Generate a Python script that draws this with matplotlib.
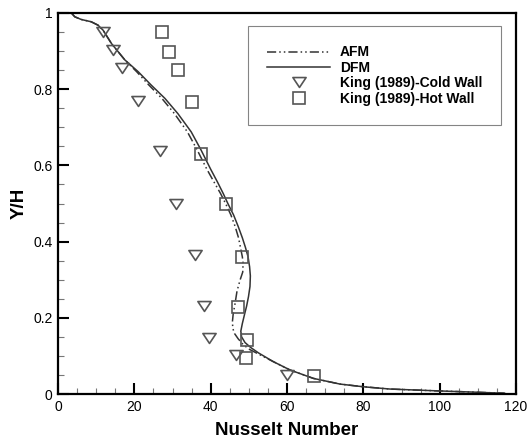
import matplotlib
matplotlib.use("Agg")
import matplotlib.pyplot as plt
from matplotlib.ticker import MultipleLocator, FuncFormatter
from matplotlib.path import Path

plt.rcParams['font.family'] = ['Liberation Sans', 'DejaVu Sans']

# DFM curve (x = Nusselt number, y = Y/H)
dfm_x = [3.5, 4.4, 6.1, 8.7, 10.5, 11.8, 14.0, 17.5, 21.0, 24.4, 28.0, 31.4, 34.9, 37.5, 40.0,
         41.8, 43.3, 44.5, 46.0, 47.2, 48.3, 49.1, 49.8, 50.2, 50.4, 50.3, 49.9, 49.4, 48.9,
         48.3, 47.9, 48.1, 49.0, 50.5, 52.5, 56.4, 60.8, 66.9, 73.9, 80.0, 87.0, 100.0, 108.8,
         114.0, 117.0]
dfm_y = [1.0, 0.99, 0.983, 0.977, 0.968, 0.955, 0.92, 0.877, 0.846, 0.811, 0.776, 0.736, 0.688,
         0.64, 0.59, 0.556, 0.526, 0.50, 0.47, 0.44, 0.41, 0.385, 0.36, 0.334, 0.31, 0.282,
         0.255, 0.23, 0.21, 0.185, 0.165, 0.15, 0.135, 0.122, 0.108, 0.085, 0.063, 0.041,
         0.026, 0.019, 0.013, 0.008, 0.005, 0.003, 0.002]

# AFM curve
afm_x = [3.5, 4.4, 6.1, 8.7, 10.5, 11.8, 14.0, 17.5, 20.6, 23.8, 27.2, 30.5, 33.9, 36.5, 39.0,
         40.9, 42.6, 43.9, 45.3, 46.4, 47.3, 47.8, 48.3, 48.5, 48.4, 47.7, 46.9, 46.4, 45.9,
         45.7, 45.8, 46.3, 47.2, 48.5, 50.0, 52.3, 56.4, 60.8, 66.9, 73.9, 80.0, 87.0, 100.0,
         108.8, 114.0, 117.0]
afm_y = [1.0, 0.99, 0.983, 0.977, 0.968, 0.955, 0.92, 0.877, 0.846, 0.811, 0.776, 0.736, 0.688,
         0.64, 0.59, 0.556, 0.526, 0.50, 0.47, 0.44, 0.41, 0.385, 0.36, 0.343, 0.32, 0.299,
         0.27, 0.238, 0.21, 0.19, 0.172, 0.158, 0.145, 0.13, 0.118, 0.106, 0.085, 0.063,
         0.041, 0.026, 0.019, 0.013, 0.008, 0.005, 0.003, 0.002]

# King (1989) experimental data
cold_x = [11.9, 14.3, 16.8, 21.0, 26.8, 30.9, 35.9, 38.2, 39.6, 46.6, 60.0]
cold_y = [0.951, 0.904, 0.856, 0.768, 0.638, 0.500, 0.365, 0.231, 0.147, 0.102, 0.050]
hot_x = [27.3, 29.2, 31.5, 35.1, 37.4, 44.1, 48.3, 47.1, 49.4, 49.2, 67.1]
hot_y = [0.950, 0.898, 0.850, 0.766, 0.630, 0.499, 0.360, 0.228, 0.142, 0.095, 0.047]

fig = plt.figure(figsize=(5.29, 4.41), dpi=100)
ax = fig.add_axes([58/529, 1-394/441, 458/529, 381/441])

line_c = '#333333'
mk_c = '#555555'
tri = Path([(-1, 0.75), (1, 0.75), (0, -0.75), (-1, 0.75)],
           [Path.MOVETO, Path.LINETO, Path.LINETO, Path.CLOSEPOLY])

ax.plot(afm_x, afm_y, color=line_c, lw=1.1, dashes=(6, 2, 1, 2, 1, 2), label='AFM')
ax.plot(dfm_x, dfm_y, color=line_c, lw=1.1, label='DFM')
ax.plot(cold_x, cold_y, ls='none', marker=tri, ms=9.5, mfc='none', mec=mk_c, mew=1.2,
        label='King (1989)-Cold Wall')
ax.plot(hot_x, hot_y, ls='none', marker='s', ms=8, mfc='none', mec=mk_c, mew=1.2,
        label='King (1989)-Hot Wall')

ax.set_xlim(0, 120)
ax.set_ylim(0, 1)
ax.xaxis.set_major_locator(MultipleLocator(20))
ax.xaxis.set_minor_locator(MultipleLocator(5))
ax.yaxis.set_major_locator(MultipleLocator(0.2))
ax.yaxis.set_minor_locator(MultipleLocator(0.05))
ax.yaxis.set_major_formatter(FuncFormatter(lambda v, p: ('%g' % round(v, 2))))

for s in ax.spines.values():
    s.set_linewidth(1.6)
    s.set_color('black')
ax.tick_params(which='major', direction='in', length=8, width=1.5, labelsize=10, pad=4)
ax.tick_params(which='minor', direction='in', length=4, width=0.8, color='#777777')

ax.set_xlabel('Nusselt Number', fontsize=13.5, fontweight='bold', labelpad=6)
ax.set_ylabel('Y/H', fontsize=13.5, fontweight='bold', labelpad=4)

leg = ax.legend(loc='upper left', bbox_to_anchor=((248-58)/458, (394-26)/381),
                prop={'weight': 'bold', 'size': 10}, frameon=True, fancybox=False,
                handlelength=4.5, handletextpad=0.7, labelspacing=0.1, borderpad=1.4,
                borderaxespad=0)
leg.get_frame().set_edgecolor('#666666')
leg.get_frame().set_linewidth(0.8)

fig.savefig('out.png', dpi=100)
